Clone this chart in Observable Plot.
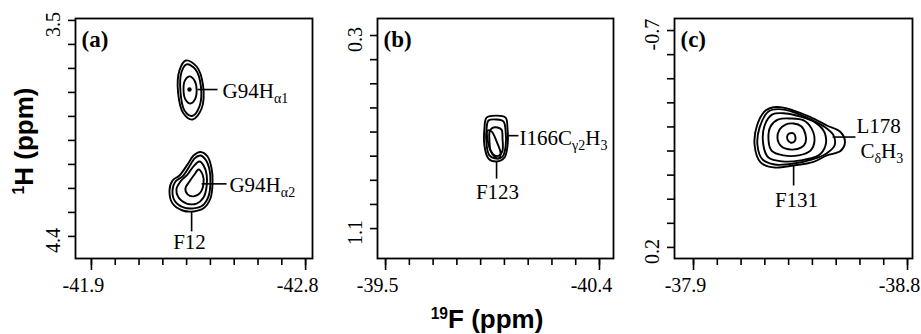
<!DOCTYPE html>
<html>
<head>
<meta charset="utf-8">
<script src="https://cdn.jsdelivr.net/npm/d3@7"></script>
<script src="https://cdn.jsdelivr.net/npm/@observablehq/plot@0.6"></script>
<style>
  html, body { margin: 0; padding: 0; background: #fff; }
  #wrap { position: relative; width: 921px; height: 334px; overflow: hidden; background: #fff; }
  .ttl { position: absolute; font-family: "Liberation Sans", Arial, sans-serif; font-weight: bold; font-size: 26px; line-height: 26px; white-space: nowrap; color: #000; }
  .ttl sup { font-size: 0.6em; line-height: 0; vertical-align: 0.55em; }
</style>
</head>
<body>
<div id="wrap">
  <div class="ttl" id="ylab" style="left:24px; top:141px; transform: translate(-50%,-50%) rotate(-90deg);"><sup>1</sup>H (ppm)</div>
  <div class="ttl" id="xlab" style="left:487px; top:306px; transform: translateX(-50%);"><sup>19</sup>F (ppm)</div>
</div>
<script>
// ---------- Panel (a) ----------
const xTicksA = [-41.9, -42.0, -42.1, -42.2, -42.3, -42.4, -42.5, -42.6, -42.7, -42.8];
const yTicksA = [3.5, 3.6, 3.7, 3.8, 3.9, 4.0, 4.1, 4.2, 4.3, 4.4];
const xEndsA = [-41.9, -42.8];
const xEndLabelsA = ["-41.9", "-42.8"];
const yEndsA = [3.5, 4.4];
const yEndLabelsA = ["3.5", "4.4"];
const ringsA = [
  // G94H alpha1
  [[-42.297,3.667],[-42.342,3.692],[-42.369,3.771],[-42.363,3.867],[-42.325,3.913],[-42.287,3.888],[-42.264,3.800],[-42.270,3.708]],
  [[-42.300,3.683],[-42.337,3.704],[-42.360,3.775],[-42.354,3.858],[-42.323,3.898],[-42.291,3.875],[-42.274,3.796],[-42.278,3.717]],
  [[-42.312,3.733],[-42.333,3.750],[-42.342,3.788],[-42.335,3.829],[-42.316,3.846],[-42.295,3.829],[-42.287,3.792],[-42.293,3.750]],
  // G94H alpha2
  [[-42.358,4.048],[-42.388,4.067],[-42.405,4.117],[-42.409,4.175],[-42.400,4.242],[-42.371,4.283],[-42.329,4.296],[-42.283,4.292],[-42.241,4.263],[-42.228,4.208],[-42.241,4.167],[-42.270,4.146],[-42.304,4.100],[-42.329,4.063]],
  [[-42.358,4.063],[-42.379,4.079],[-42.396,4.121],[-42.400,4.175],[-42.392,4.233],[-42.367,4.271],[-42.329,4.283],[-42.287,4.279],[-42.249,4.250],[-42.241,4.204],[-42.253,4.171],[-42.283,4.150],[-42.312,4.108],[-42.333,4.075]],
  [[-42.354,4.088],[-42.371,4.104],[-42.384,4.142],[-42.384,4.192],[-42.371,4.238],[-42.342,4.263],[-42.300,4.263],[-42.266,4.238],[-42.257,4.204],[-42.274,4.171],[-42.304,4.142],[-42.329,4.108]],
  [[-42.350,4.121],[-42.367,4.142],[-42.371,4.179],[-42.358,4.217],[-42.329,4.233],[-42.304,4.225],[-42.295,4.200],[-42.312,4.171],[-42.333,4.142]]
];
const peakDotsA = [[-42.312, 3.788]];
const leadersA = [[-42.346,3.788,-42.430,3.788],[-42.363,4.181,-42.468,4.181],[-42.321,4.296,-42.321,4.379]];
const labelsA = ["G94H{α1}", "G94H{α2}", "F12"];
const labelXA = [-42.451, -42.480, -42.312];
const labelYA = [3.794, 4.185, 4.425];
const labelAnchorA = ["start", "start", "middle"];

// ---------- Panel (b) ----------
const xTicksB = [-39.5, -39.6, -39.7, -39.8, -39.9, -40.0, -40.1, -40.2, -40.3, -40.4];
const yTicksB = [0.3, 0.4, 0.5, 0.6, 0.7, 0.8, 0.9, 1.0, 1.1];
const xEndsB = [-39.5, -40.4];
const xEndLabelsB = ["-39.5", "-40.4"];
const yEndsB = [0.3, 1.1];
const yEndLabelsB = ["0.3", "1.1"];
const ringsB = [
  [[-39.925,0.640],[-39.967,0.632],[-40.005,0.640],[-40.013,0.685],[-40.013,0.756],[-40.000,0.806],[-39.967,0.822],[-39.933,0.810],[-39.916,0.756],[-39.916,0.685]],
  [[-39.933,0.652],[-39.967,0.648],[-39.996,0.656],[-40.005,0.694],[-40.005,0.760],[-39.992,0.802],[-39.967,0.810],[-39.937,0.797],[-39.925,0.752],[-39.925,0.685]],
  [[-39.946,0.685],[-39.971,0.681],[-39.988,0.690],[-39.992,0.727],[-39.992,0.777],[-39.979,0.797],[-39.958,0.797],[-39.942,0.777],[-39.937,0.735],[-39.937,0.702]],
  [[-39.929,0.694],[-39.946,0.698],[-39.967,0.739],[-39.984,0.789],[-39.975,0.810],[-39.954,0.797],[-39.933,0.752]]
];
const peakDotsB = [];
const leadersB = [[-40.017,0.715,-40.059,0.715],[-39.967,0.822,-39.967,0.893]];
const labelsB = ["I166C{γ2}H{3}", "F123"];
const labelXB = [-40.064, -39.971];
const labelYB = [0.725, 0.951];
const labelAnchorB = ["start", "middle"];

// ---------- Panel (c) ----------
const xTicksC = [-37.9, -38.0, -38.1, -38.2, -38.3, -38.4, -38.5, -38.6, -38.7, -38.8];
const yTicksC = [-0.7, -0.6, -0.5, -0.4, -0.3, -0.2, -0.1, 0.0, 0.1, 0.2];
const xEndsC = [-37.9, -38.8];
const xEndLabelsC = ["-37.9", "-38.8"];
const yEndsC = [-0.7, 0.2];
const yEndLabelsC = ["-0.7", "0.2"];
const ringsC = [
  [[-38.203,-0.368],[-38.252,-0.383],[-38.321,-0.368],[-38.392,-0.341],[-38.461,-0.306],[-38.518,-0.279],[-38.537,-0.238],[-38.518,-0.200],[-38.461,-0.182],[-38.405,-0.155],[-38.321,-0.140],[-38.236,-0.132],[-38.182,-0.153],[-38.157,-0.223],[-38.167,-0.306]],
  [[-38.215,-0.364],[-38.257,-0.374],[-38.325,-0.360],[-38.392,-0.331],[-38.455,-0.298],[-38.489,-0.265],[-38.493,-0.223],[-38.459,-0.190],[-38.400,-0.165],[-38.321,-0.148],[-38.241,-0.144],[-38.190,-0.165],[-38.169,-0.223],[-38.178,-0.298]],
  [[-38.232,-0.352],[-38.287,-0.356],[-38.350,-0.343],[-38.413,-0.318],[-38.451,-0.277],[-38.455,-0.223],[-38.426,-0.182],[-38.350,-0.161],[-38.274,-0.157],[-38.215,-0.173],[-38.194,-0.223],[-38.199,-0.306]],
  [[-38.257,-0.331],[-38.308,-0.335],[-38.363,-0.327],[-38.396,-0.294],[-38.409,-0.244],[-38.392,-0.202],[-38.342,-0.182],[-38.278,-0.182],[-38.228,-0.202],[-38.215,-0.252],[-38.224,-0.302]],
  [[-38.287,-0.310],[-38.321,-0.314],[-38.354,-0.302],[-38.371,-0.269],[-38.371,-0.235],[-38.354,-0.215],[-38.312,-0.206],[-38.270,-0.219],[-38.253,-0.252],[-38.262,-0.289]],
  [[-38.304,-0.273],[-38.321,-0.273],[-38.329,-0.256],[-38.325,-0.240],[-38.308,-0.235],[-38.295,-0.248],[-38.295,-0.265]]
];
const peakDotsC = [];
const leadersC = [[-38.485,-0.258,-38.581,-0.258],[-38.321,-0.140,-38.321,-0.057]];
const labelsC = ["L178", "C{δ}H{3}", "F131"];
const labelXC = [-38.585, -38.602, -38.333];
const labelYC = [-0.304, -0.200, 0.005];
const labelAnchorC = ["start", "start", "middle"];

// ---------- builder ----------
function buildPanel(o) {
  const ringData = o.rings.flatMap((r, i) => r.map(([x, y]) => ({x, y, ring: i})));
  const leaderData = o.leaders.map(([x1, y1, x2, y2]) => ({x1, y1, x2, y2}));
  const labelData = o.labels.map((t, i) => ({text: t, x: o.labelX[i], y: o.labelY[i], anchor: o.labelAnchor[i]}));
  const dotData = o.dots.map(([x, y]) => ({x, y}));
  const xFmt = d => o.xEndLabels[o.xEnds.indexOf(d)];
  const yFmt = d => o.yEndLabels[o.yEnds.indexOf(d)];
  const svg = Plot.plot({
    width: o.width,
    height: 300,
    marginLeft: o.marginLeft,
    marginRight: o.marginRight,
    marginTop: 18,
    marginBottom: 42,
    x: {domain: o.xDomain, label: null},
    y: {domain: o.yDomain, label: null},
    style: {background: "none", color: "#000", fontFamily: "'Liberation Serif', 'Times New Roman', serif", fontSize: "20px", overflow: "visible"},
    marks: [
      Plot.line(ringData, {x: "x", y: "y", z: "ring", curve: "catmull-rom-closed", stroke: "#000", strokeWidth: 1.9}),
      Plot.dot(dotData, {x: "x", y: "y", r: 2.2, fill: "#000", stroke: "none"}),
      Plot.link(leaderData, {x1: "x1", y1: "y1", x2: "x2", y2: "y2", stroke: "#000", strokeWidth: 1.6}),
      Plot.text(labelData.filter(d => d.anchor === "start"), {x: "x", y: "y", text: "text", textAnchor: "start", lineAnchor: "middle", fontSize: 21}),
      Plot.text(labelData.filter(d => d.anchor === "middle"), {x: "x", y: "y", text: "text", textAnchor: "middle", lineAnchor: "middle", fontSize: 21}),
      Plot.text([o.letter], {frameAnchor: "top-left", dx: 6, dy: 12, textAnchor: "start", lineAnchor: "top", fontWeight: "bold", fontSize: 23}),
      Plot.axisX(o.xTicks, {tickSize: 7, tickFormat: () => "", strokeWidth: 1.6, label: null}),
      Plot.axisX(o.xEnds, {tickSize: 12, tickFormat: () => "", strokeWidth: 1.6, label: null}),
      Plot.axisX(o.xEnds, {tickSize: 0, tickPadding: 19, dx: -8, tickFormat: xFmt, label: null, fontSize: 20}),
      Plot.axisY(o.yTicks, {tickSize: 7, tickFormat: () => "", strokeWidth: 1.6, label: null}),
      Plot.axisY(o.yEnds, {tickSize: 0, tickPadding: 16, tickRotate: -90, dy: 4, tickFormat: yFmt, label: null, fontSize: 20}),
      Plot.frame({stroke: "#000", strokeWidth: 1.8})
    ]
  });
  svg.style.position = "absolute";
  svg.style.left = o.left + "px";
  svg.style.top = "0px";
  // subscripts written as {..} in the label strings
  d3.select(svg).selectAll("text").each(function () {
    const t = this.textContent;
    if (!t || !t.includes("{")) return;
    const parts = t.split(/(\{[^}]*\})/).filter(s => s.length);
    const sel = d3.select(this);
    sel.text(null);
    let lowered = false;
    for (const p of parts) {
      if (p.startsWith("{")) {
        sel.append("tspan").attr("font-size", "14px").attr("dy", lowered ? 0 : 5).text(p.slice(1, -1));
        lowered = true;
      } else {
        const ts = sel.append("tspan").text(p);
        if (lowered) { ts.attr("dy", -5); lowered = false; }
      }
    }
  });
  return svg;
}

const wrap = document.getElementById("wrap");
wrap.appendChild(buildPanel({
  left: 0, width: 320, marginLeft: 75, marginRight: 8,
  xDomain: [-41.833, -42.829], yDomain: [4.492, 3.492],
  xTicks: xTicksA, yTicks: yTicksA, xEnds: xEndsA, xEndLabels: xEndLabelsA, yEnds: yEndsA, yEndLabels: yEndLabelsA,
  rings: ringsA, dots: peakDotsA, leaders: leadersA,
  labels: labelsA, labelX: labelXA, labelY: labelYA, labelAnchor: labelAnchorA, letter: "(a)"
}));
wrap.appendChild(buildPanel({
  left: 320, width: 300, marginLeft: 57, marginRight: 7,
  xDomain: [-39.466, -40.459], yDomain: [1.224, 0.2295],
  xTicks: xTicksB, yTicks: yTicksB, xEnds: xEndsB, xEndLabels: xEndLabelsB, yEnds: yEndsB, yEndLabels: yEndLabelsB,
  rings: ringsB, dots: peakDotsB, leaders: leadersB,
  labels: labelsB, labelX: labelXB, labelY: labelYB, labelAnchor: labelAnchorB, letter: "(b)"
}));
wrap.appendChild(buildPanel({
  left: 620, width: 301, marginLeft: 54, marginRight: 9,
  xDomain: [-37.820, -38.821], yDomain: [0.246, -0.750],
  xTicks: xTicksC, yTicks: yTicksC, xEnds: xEndsC, xEndLabels: xEndLabelsC, yEnds: yEndsC, yEndLabels: yEndLabelsC,
  rings: ringsC, dots: peakDotsC, leaders: leadersC,
  labels: labelsC, labelX: labelXC, labelY: labelYC, labelAnchor: labelAnchorC, letter: "(c)"
}));
</script>
</body>
</html>
